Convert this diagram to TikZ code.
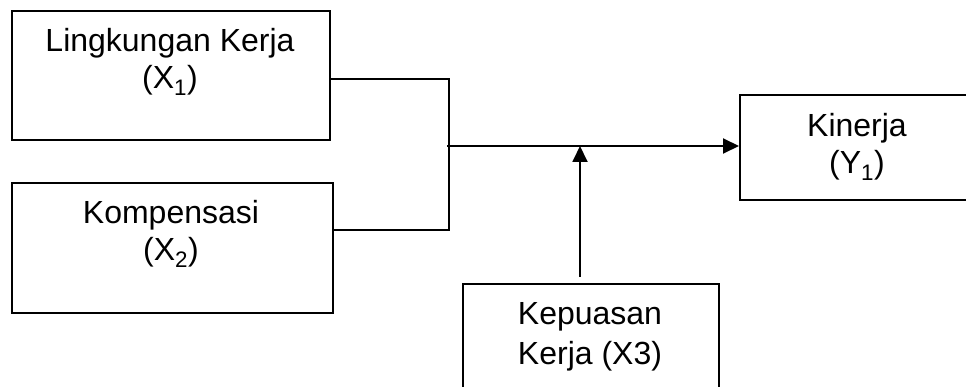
\documentclass[tikz,border=0pt]{standalone}
\usepackage{fontspec}
\setmainfont{Liberation Sans}
\usetikzlibrary{arrows.meta,calc}
\newcommand{\sbx}[1]{\textsubscript{#1}}
\begin{document}
\begin{tikzpicture}[x=1pt,y=-1pt,
  boxnode/.style={draw,line width=1.9pt,inner sep=0pt,anchor=north west},
  txt/.style={inner sep=0pt,align=center,anchor=north,font=\fontsize{32}{37}\selectfont},
  conn/.style={line width=1.9pt},
  tip/.style={-{Triangle[length=16pt,width=15pt]}}]
\clip (0,0) rectangle (966,387);
\useasboundingbox (0,0) rectangle (966,387);
\node[boxnode,minimum width=318pt,minimum height=129pt] (b1) at (11,10) {};
\node[boxnode,minimum width=321pt,minimum height=130pt] (b2) at (11,182) {};
\node[boxnode,minimum width=236pt,minimum height=105pt] (y) at (739,94) {};
\node[boxnode,minimum width=256pt,minimum height=130pt] (z) at (462,283) {};
\node[txt] (t1) at (170,28) {Lingkungan Kerja\\(X\sbx{1})};
\node[txt] (t2) at (171,200) {Kompensasi\\(X\sbx{2})};
\node[txt] (ty) at (857,113) {Kinerja\\(Y\sbx{1})};
\node[txt,font=\fontsize{32}{40}\selectfont] (tz) at (590,302) {Kepuasan\\Kerja (X3)};
\coordinate (j1) at (449,79);
\coordinate (j2) at (449,230);
\coordinate (m0) at (447,146);
\coordinate (zs) at (580,277);
\coordinate (zt) at (580,146);
\draw[conn] (b1.east |- j1) -- (j1) -- (j2) -- (b2.east |- j2);
\draw[conn,tip] (m0) -- (y.west |- m0);
\draw[conn,tip] (zs) -- (zt);
\end{tikzpicture}
\end{document}
